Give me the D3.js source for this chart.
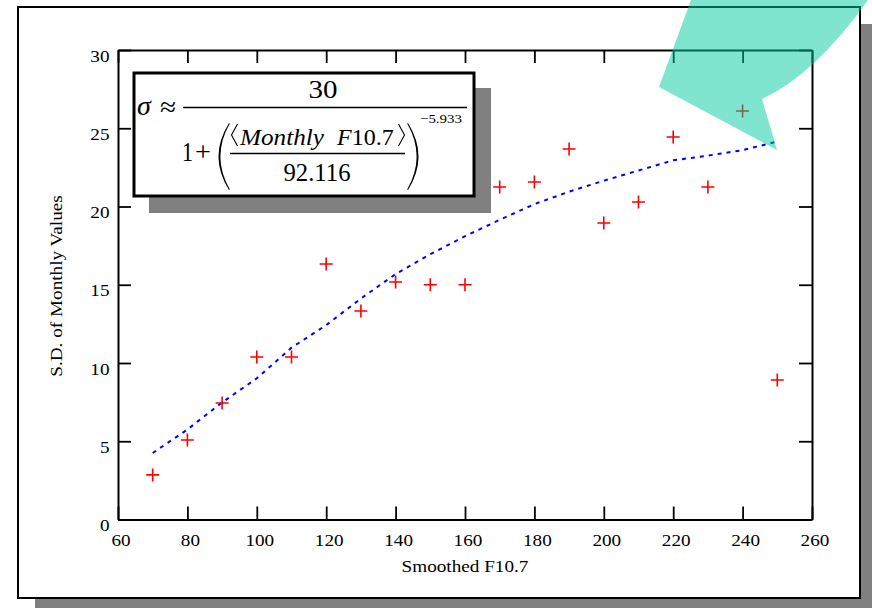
<!DOCTYPE html>
<html>
<head>
<meta charset="utf-8">
<script src="https://cdn.jsdelivr.net/npm/d3@7"></script>
<style>
  html, body { margin: 0; padding: 0; background: #ffffff; }
  svg { display: block; }
  text { font-family: "Liberation Serif", "Times New Roman", serif; fill: #000; }
</style>
</head>
<body>
<svg id="chart" width="872" height="608"></svg>
<script>
// ---- data ----
const fluxValues = [70, 80, 90, 100, 110, 120, 130, 140, 150, 160, 170, 180, 190, 200, 210, 220, 230, 240, 250];
const sdValues   = [2.85, 5.08, 7.44, 10.38, 10.38, 16.33, 13.32, 15.18, 15.0, 15.0, 21.25, 21.57, 23.67, 18.95, 20.29, 24.44, 21.25, 26.1, 8.91];
const fitValues  = [4.25, 5.75, 7.48, 9.02, 10.98, 12.42, 14.12, 15.68, 16.95, 18.1, 19.15, 20.15, 20.95, 21.65, 22.3, 22.95, 23.25, 23.6, 24.15];
const xTickValues = [60, 80, 100, 120, 140, 160, 180, 200, 220, 240, 260];
const yTickValues = [0, 5, 10, 15, 20, 25, 30];
const xLabel = "Smoothed F10.7";
const yLabel = "S.D. of Monthly Values";

const SERIF = "'Liberation Serif', 'Times New Roman', serif";
const svg = d3.select("#chart");
const STRETCH = 1.13;

// outer frame shadow + frame
svg.append("rect").attr("x", 35).attr("y", 24).attr("width", 842).attr("height", 591).attr("fill", "#808080");
svg.append("rect").attr("x", 18).attr("y", 7).attr("width", 842).attr("height", 591)
   .attr("fill", "#ffffff").attr("stroke", "#000").attr("stroke-width", 2);

// scales
const x = d3.scaleLinear().domain([60, 260]).range([118, 812]);
const y = d3.scaleLinear().domain([0, 30]).range([519.5, 50]);

function styleAxis(g) {
  g.select(".domain").attr("stroke", "#000").attr("stroke-width", 2);
  g.selectAll(".tick line").attr("stroke", "#000").attr("stroke-width", 1.8);
}

// bottom axis
const gB = svg.append("g").attr("transform", `translate(0,${y(0)})`)
  .call(d3.axisBottom(x).tickValues(xTickValues).tickSize(-13).tickSizeOuter(0).tickFormat(d3.format("d")));
styleAxis(gB);
gB.selectAll(".tick text").attr("dy", null).attr("y", 26.5).attr("x", 2.2)
  .attr("transform", `scale(${STRETCH},1)`)
  .attr("font-family", SERIF).attr("font-size", 17).attr("fill", "#000");

// top axis
const gT = svg.append("g").attr("transform", `translate(0,${y(30)})`)
  .call(d3.axisTop(x).tickValues(xTickValues).tickSize(-13).tickSizeOuter(0).tickFormat(""));
styleAxis(gT);

// left axis
const gL = svg.append("g").attr("transform", `translate(${x(60)},0)`)
  .call(d3.axisLeft(y).tickValues(yTickValues).tickSize(-13).tickSizeOuter(0).tickFormat(d3.format("d")));
styleAxis(gL);
gL.selectAll(".tick text").attr("dy", null).attr("y", 11).attr("x", -7.5)
  .attr("transform", `scale(${STRETCH},1)`)
  .attr("font-family", SERIF).attr("font-size", 17).attr("fill", "#000");

// right axis
const gR = svg.append("g").attr("transform", `translate(${x(260)},0)`)
  .call(d3.axisRight(y).tickValues(yTickValues).tickSize(-13).tickSizeOuter(0).tickFormat(""));
styleAxis(gR);

// axis labels
svg.append("text").attr("transform", `translate(465,572) scale(${STRETCH},1)`)
  .attr("text-anchor", "middle").attr("font-family", SERIF).attr("font-size", 17).text(xLabel);
svg.append("text").attr("transform", `translate(62,286) rotate(-90) scale(${STRETCH},1)`)
  .attr("text-anchor", "middle").attr("font-family", SERIF).attr("font-size", 17).text(yLabel);

// fitted dashed curve
const line = d3.line().x((d, i) => x(fluxValues[i])).y(d => y(d));
svg.append("path").datum(fitValues).attr("d", line)
  .attr("fill", "none").attr("stroke", "#0000ff").attr("stroke-width", 2)
  .attr("stroke-dasharray", "4,5");

// data points as "+"
svg.append("g").selectAll("path").data(sdValues).join("path")
  .attr("d", (d, i) => {
    const px = x(fluxValues[i]), py = y(d);
    return `M${px - 6.5},${py}H${px + 6.5}M${px},${py - 6.5}V${py + 6.5}`;
  })
  .attr("stroke", "#ff0000").attr("stroke-width", 1.6).attr("fill", "none");

// formula box
svg.append("rect").attr("x", 149).attr("y", 88).attr("width", 342).attr("height", 125).attr("fill", "#808080");
svg.append("rect").attr("x", 134).attr("y", 73).attr("width", 340).attr("height", 123)
  .attr("fill", "#fff").attr("stroke", "#000").attr("stroke-width", 3);

const f = svg.append("g").attr("font-family", SERIF);
f.append("text").attr("x", 137).attr("y", 115).attr("font-size", 28).attr("font-style", "italic").text("σ");
f.append("text").attr("x", 160).attr("y", 116).attr("font-size", 27)
  .attr("textLength", 16).attr("lengthAdjust", "spacingAndGlyphs").text("≈");
f.append("line").attr("x1", 183).attr("x2", 467).attr("y1", 107.5).attr("y2", 107.5).attr("stroke", "#000").attr("stroke-width", 1.3);
f.append("text").attr("x", 323).attr("y", 97.5).attr("text-anchor", "middle").attr("font-size", 25)
  .attr("textLength", 29).attr("lengthAdjust", "spacingAndGlyphs").text("30");
f.append("text").attr("x", 182).attr("y", 161).attr("font-size", 27)
  .attr("textLength", 11).attr("lengthAdjust", "spacingAndGlyphs").text("1");
f.append("text").attr("x", 195).attr("y", 161).attr("font-size", 27)
  .attr("textLength", 16).attr("lengthAdjust", "spacingAndGlyphs").text("+");
// big parentheses
f.append("path").attr("d", "M229,123 Q208,156.5 229,190 L229.8,189.5 Q211,156.5 229.8,123.5 Z").attr("fill", "#000");
f.append("path").attr("d", "M408,123 Q429,156.5 408,190 L407.2,189.5 Q426,156.5 407.2,123.5 Z").attr("fill", "#000");
// angle brackets
f.append("path").attr("d", "M237.5,124 L231.5,135 L237.5,146").attr("fill", "none").attr("stroke", "#000").attr("stroke-width", 1.1);
f.append("path").attr("d", "M398.5,124 L404.5,135 L398.5,146").attr("fill", "none").attr("stroke", "#000").attr("stroke-width", 1.1);
const inner = f.append("text").attr("x", 240).attr("y", 145).attr("font-size", 24);
inner.append("tspan").attr("font-style", "italic").attr("textLength", 84).attr("lengthAdjust", "spacingAndGlyphs").text("Monthly");
inner.append("tspan").attr("x", 337).attr("font-style", "italic").text("F");
inner.append("tspan").text("10.7");
f.append("line").attr("x1", 230).attr("x2", 405).attr("y1", 153.5).attr("y2", 153.5).attr("stroke", "#000").attr("stroke-width", 1.3);
f.append("text").attr("x", 317).attr("y", 180.5).attr("text-anchor", "middle").attr("font-size", 25)
  .attr("textLength", 67).attr("lengthAdjust", "spacingAndGlyphs").text("92.116");
f.append("text").attr("x", 420).attr("y", 122.5).attr("font-size", 12.5)
  .attr("textLength", 42).attr("lengthAdjust", "spacingAndGlyphs").text("−5.933");

// teal arrow overlay
svg.append("path")
  .attr("d", "M691,0 L659,87 L777,150 L762,99 Q815,74.5 868,0 Z")
  .attr("fill", "rgb(0,203,160)").attr("fill-opacity", 0.5);
</script>
</body>
</html>
